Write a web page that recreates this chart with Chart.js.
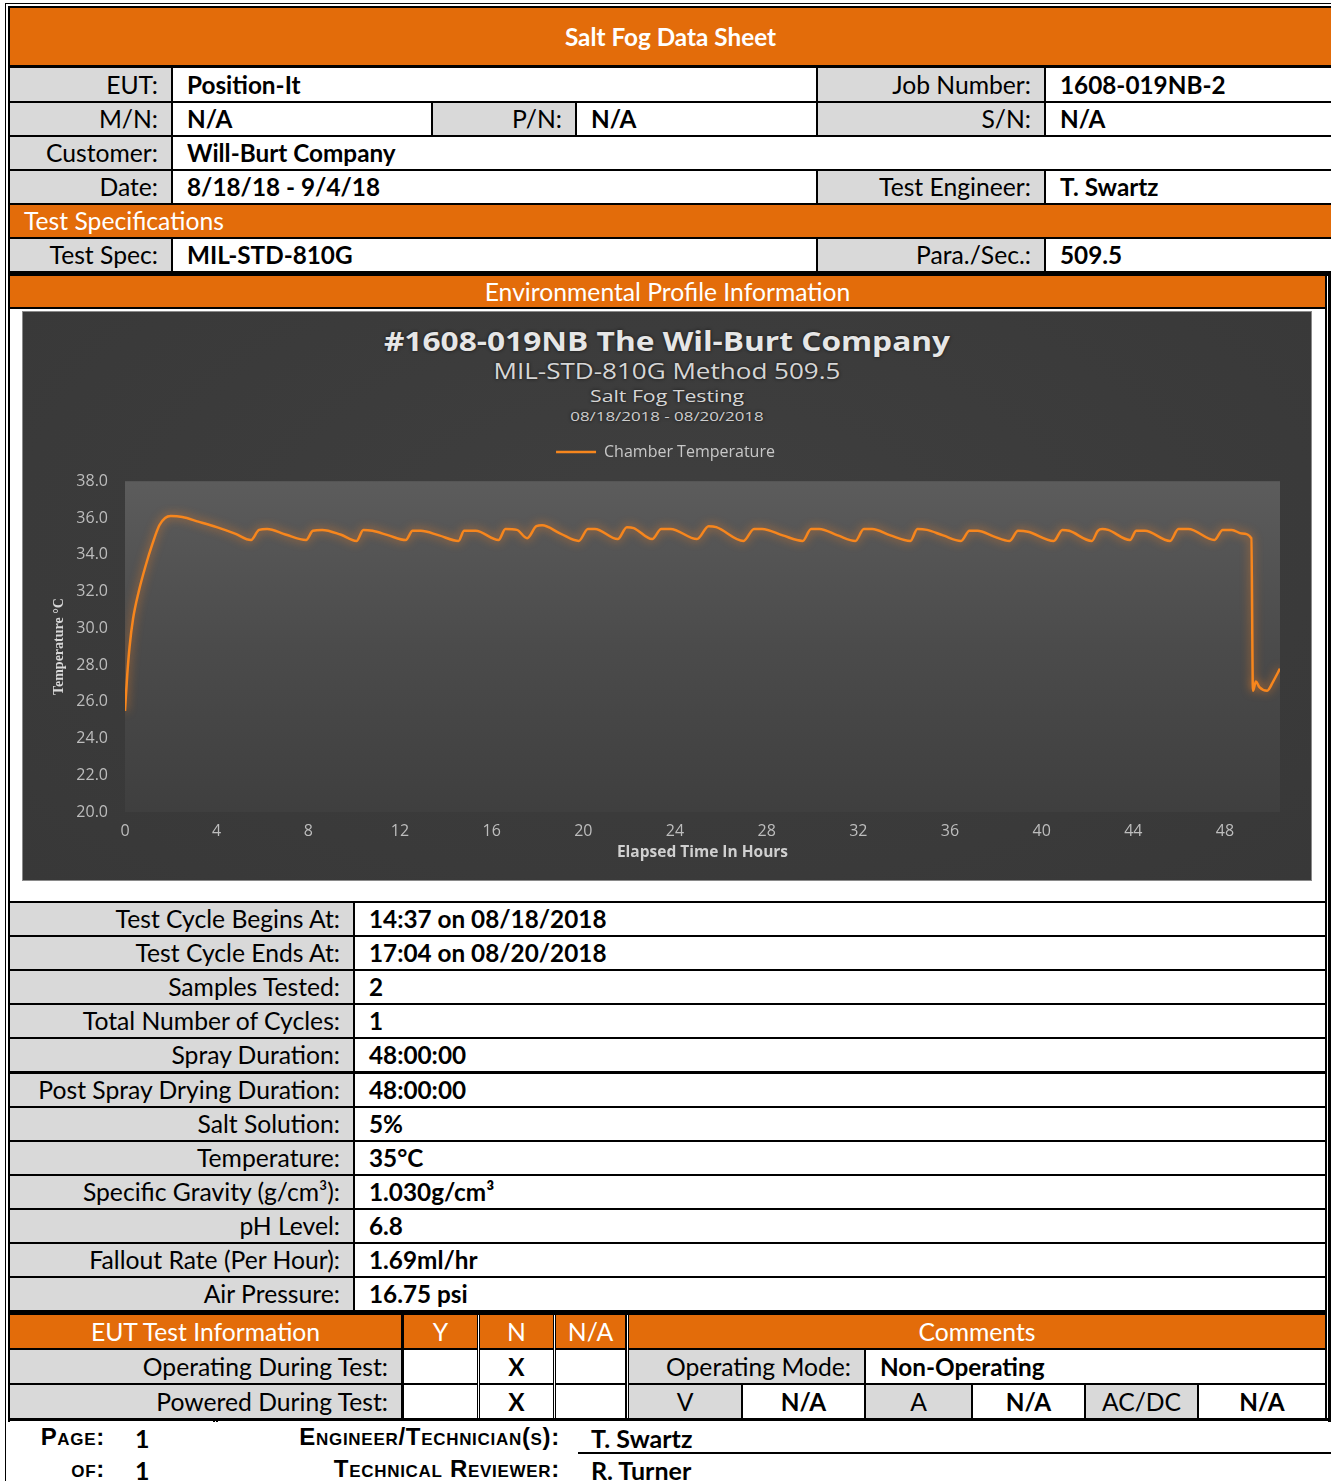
<!DOCTYPE html>
<html><head><meta charset="utf-8">
<script src="https://cdn.jsdelivr.net/npm/chart.js@4.4.0/dist/chart.umd.min.js"></script>
<style>
html,body{margin:0;padding:0;background:#fff;}
body{width:1331px;height:1481px;position:relative;overflow:hidden;font-family:Lato,'Noto Sans',sans-serif;}
.c{position:absolute;box-sizing:border-box;white-space:nowrap;overflow:hidden;font-size:24.7px;color:#000;}
.o{background:#e36c0a;color:#fff;}
.g{background:#d9d9d9;}
.w{background:#fff;}
.b{font-weight:700;font-size:24.3px;}
.l{text-align:left;padding-left:14px;}
.r{text-align:right;padding-right:13px;}
.m{text-align:center;}
#frame1{position:absolute;left:5px;top:3px;width:1340px;height:1490px;border:1px solid #000;background:#fff;}
#frame2{position:absolute;left:8px;top:6px;width:1330px;height:1416px;background:#000;}
#chartBox{position:absolute;left:23px;top:312px;width:1288px;height:568px;background:radial-gradient(ellipse at 50% 40%,#3f3f3f 0%,#383838 100%);box-shadow:0 0 0 1px #8a8a8a;}
#chartBox canvas{position:absolute;left:0;top:0;}
.t{position:absolute;left:0;width:1288px;text-align:center;font-family:'Open Sans',sans-serif;white-space:nowrap;text-shadow:0 0 3px #111;transform-origin:644px 50%;}
.f{position:absolute;font-family:'Liberation Sans',Arial,sans-serif;font-weight:700;font-size:24px;letter-spacing:0.7px;font-variant:small-caps;white-space:nowrap;color:#000;}
.fv{position:absolute;font-family:Lato,sans-serif;font-weight:700;font-size:25px;white-space:nowrap;color:#000;}
</style></head>
<body>
<div id="frame1"></div>
<div id="frame2"></div>
<div id="cells"></div>
<div id="chartBox">
  <div class="t" style="top:13px;font-size:26px;font-weight:700;color:#e6e6e6;line-height:32px;transform:scaleX(1.218);">#1608-019NB The Wil-Burt Company</div>
  <div class="t" style="top:46px;font-size:21px;color:#d6d6d6;line-height:26px;transform:scaleX(1.24);">MIL-STD-810G Method 509.5</div>
  <div class="t" style="top:74px;font-size:17px;color:#d6d6d6;line-height:20px;transform:scaleX(1.25);">Salt Fog Testing</div>
  <div class="t" style="top:96px;font-size:13.5px;color:#cfcfcf;line-height:16px;transform:scaleX(1.25);">08/18/2018 - 08/20/2018</div>
  <canvas id="chart" width="1288" height="568"></canvas>
</div>
<div class="f" style="right:1226px;top:1423px;">Page:</div>
<div class="fv" style="left:135px;top:1423px;">1</div>
<div class="f" style="right:1226px;top:1455px;">of:</div>
<div class="fv" style="left:135px;top:1455px;">1</div>
<div class="f" style="right:771px;top:1423px;">Engineer/Technician(s):</div>
<div class="fv" style="left:591px;top:1423px;">T. Swartz</div>
<div class="f" style="right:771px;top:1455px;">Technical Reviewer:</div>
<div class="fv" style="left:591px;top:1455px;">R. Turner</div>
<div style="position:absolute;left:578px;top:1452px;width:753px;height:2px;background:#000;"></div>
<script>
// ---- chart data ----
const seriesLabel = 'Chamber Temperature';
const hours = [
  0, 0.1, 0.2, 0.35, 0.6, 0.9, 1.2, 1.5, 1.75, 2.0, 2.5, 3.2, 4.0, 4.8, 5.5,
  5.85, 6.2, 7.0, 7.9,
  8.2, 8.6, 9.4, 10.1,
  10.4, 10.8, 11.5, 12.25,
  12.55, 12.9, 13.7, 14.55,
  14.8, 15.3, 16.3,
  16.6, 17.1, 17.55,
  17.95, 18.2, 19.0, 19.8,
  20.2, 20.5, 21.5,
  21.9, 22.2, 23.0,
  23.4, 23.8, 24.96,
  25.47, 25.8, 26.99,
  27.45, 27.8, 28.7, 29.57,
  29.94, 30.3, 31.1, 31.87,
  32.24, 32.6, 33.4, 34.27,
  34.58, 35.0, 35.7, 36.48,
  36.85, 37.2, 37.9, 38.6,
  38.97, 39.4, 40.53,
  40.9, 41.2, 42.19,
  42.45, 42.65, 42.9, 43.85,
  44.13, 44.5, 45.6,
  45.97, 46.4, 47.54,
  47.9, 48.3, 48.74, 49.15,
  49.22, 49.35, 49.5, 49.84, 50.1, 50.4
];
const temps = [
  25.5, 27.5, 29.0, 30.5, 32.0, 33.4, 34.6, 35.6, 36.0, 36.1, 36.05, 35.8, 35.5, 35.15, 34.8,
  35.35, 35.4, 35.1, 34.8,
  35.3, 35.35, 35.1, 34.75,
  35.35, 35.3, 35.05, 34.8,
  35.3, 35.3, 35.05, 34.75,
  35.3, 35.3, 34.8,
  35.4, 35.35, 34.9,
  35.55, 35.6, 35.15, 34.75,
  35.4, 35.4, 34.85,
  35.5, 35.45, 34.85,
  35.4, 35.4, 34.85,
  35.55, 35.5, 34.75,
  35.4, 35.4, 35.05, 34.75,
  35.4, 35.4, 35.05, 34.75,
  35.4, 35.4, 35.05, 34.75,
  35.4, 35.35, 35.05, 34.75,
  35.3, 35.3, 35.0, 34.75,
  35.3, 35.25, 34.75,
  35.35, 35.3, 34.75,
  35.3, 35.4, 35.35, 34.8,
  35.3, 35.3, 34.75,
  35.4, 35.4, 34.8,
  35.35, 35.35, 35.15, 34.9,
  26.6, 27.1, 26.8, 26.6, 27.1, 27.8
];
const xTickValues = [0, 4, 8, 12, 16, 20, 24, 28, 32, 36, 40, 44, 48];
const yTickValues = [20, 22, 24, 26, 28, 30, 32, 34, 36, 38];
const xMax = 50.4;

// ---- table cells ----
const R = [ [68,101], [103,135], [137,169], [171,203], [205,237], [239,271] ];
const cells = [
  [10,8,1331,65,'o b m','Salt Fog Data Sheet'],
  [10,R[0][0],171,R[0][1],'g r','EUT:'], [173,R[0][0],816,R[0][1],'w l b','Position-It'],
  [818,R[0][0],1044,R[0][1],'g r','Job Number:'], [1046,R[0][0],1331,R[0][1],'w l b','1608-019NB-2'],
  [10,R[1][0],171,R[1][1],'g r','M/N:'], [173,R[1][0],431,R[1][1],'w l b','N/A'],
  [433,R[1][0],575,R[1][1],'g r','P/N:'], [577,R[1][0],816,R[1][1],'w l b','N/A'],
  [818,R[1][0],1044,R[1][1],'g r','S/N:'], [1046,R[1][0],1331,R[1][1],'w l b','N/A'],
  [10,R[2][0],171,R[2][1],'g r','Customer:'], [173,R[2][0],1331,R[2][1],'w l b','Will-Burt Company'],
  [10,R[3][0],171,R[3][1],'g r','Date:'], [173,R[3][0],816,R[3][1],'w l b','8/18/18 - 9/4/18'],
  [818,R[3][0],1044,R[3][1],'g r','Test Engineer:'], [1046,R[3][0],1331,R[3][1],'w l b','T. Swartz'],
  [10,R[4][0],1331,R[4][1],'o l','Test Specifications'],
  [10,R[5][0],171,R[5][1],'g r','Test Spec:'], [173,R[5][0],816,R[5][1],'w l b','MIL-STD-810G'],
  [818,R[5][0],1044,R[5][1],'g r','Para./Sec.:'], [1046,R[5][0],1331,R[5][1],'w l b','509.5'],
  [10,276,1325,307,'o m','Environmental Profile Information'],
  [10,309,1325,901,'w',''],
];
const dataRows = [
  ['Test Cycle Begins At:','14:37 on 08/18/2018'],
  ['Test Cycle Ends At:','17:04 on 08/20/2018'],
  ['Samples Tested:','2'],
  ['Total Number of Cycles:','1'],
  ['Spray Duration:','48:00:00'],
  ['Post Spray Drying Duration:','48:00:00'],
  ['Salt Solution:','5%'],
  ['Temperature:','35°C'],
  ['Specific Gravity (g/cm³):','1.030g/cm³'],
  ['pH Level:','6.8'],
  ['Fallout Rate (Per Hour):','1.69ml/hr'],
  ['Air Pressure:','16.75 psi']
];
dataRows.forEach((r,i)=>{
  const y = Math.round(903 + i*34.1);
  cells.push([10,y,353,y+32,'g r',r[0]]);
  cells.push([355,y,1325,y+32,'w l b',r[1]]);
});
const e1=[1315,1348], e2=[1350,1383], e3=[1385,1418];
cells.push(
  [10,e1[0],401,e1[1],'o m','EUT Test Information'], [404,e1[0],477,e1[1],'o m','Y'],
  [480,e1[0],553,e1[1],'o m','N'], [556,e1[0],625,e1[1],'o m','N/A'], [629,e1[0],1325,e1[1],'o m','Comments'],
  [10,e2[0],401,e2[1],'g r','Operating During Test:'], [404,e2[0],477,e2[1],'w',''],
  [480,e2[0],553,e2[1],'w m b','X'], [556,e2[0],625,e2[1],'w',''],
  [629,e2[0],864,e2[1],'g r','Operating Mode:'], [866,e2[0],1325,e2[1],'w l b','Non-Operating'],
  [10,e3[0],401,e3[1],'g r','Powered During Test:'], [404,e3[0],477,e3[1],'w',''],
  [480,e3[0],553,e3[1],'w m b','X'], [556,e3[0],625,e3[1],'w',''],
  [629,e3[0],741,e3[1],'g m','V'], [743,e3[0],864,e3[1],'w m b','N/A'],
  [866,e3[0],971,e3[1],'g m','A'], [973,e3[0],1084,e3[1],'w m b','N/A'],
  [1086,e3[0],1197,e3[1],'g m','AC/DC'], [1199,e3[0],1325,e3[1],'w m b','N/A'],
  [1327,276,1328,1418,'w',''],
  [478,1315,479,1418,'w',''], [554,1315,555,1418,'w',''], [627,1315,628,1418,'w',''],
  [10,1421,213,1481,'w',''], [218,1421,1328,1481,'w',''], [215,1421,216,1481,'w','']
);
const host = document.getElementById('cells');
cells.forEach(([x1,y1,x2,y2,cls,txt])=>{
  const d = document.createElement('div');
  d.className = 'c ' + cls;
  d.style.left = x1+'px'; d.style.top = y1+'px';
  d.style.width = (x2-x1)+'px'; d.style.height = (y2-y1)+'px';
  d.style.lineHeight = (y2-y1)+'px';
  d.textContent = txt;
  host.appendChild(d);
});

// ---- chart ----
const plotBg = {
  id:'plotBg',
  beforeDraw(chart){
    const {ctx, chartArea:a} = chart;
    const g = ctx.createLinearGradient(0,a.top,0,a.bottom);
    g.addColorStop(0,'#5c5c5c'); g.addColorStop(0.5,'#4b4b4b'); g.addColorStop(1,'#3f3f3f');
    ctx.save(); ctx.fillStyle = g; ctx.fillRect(a.left,a.top,a.right-a.left,a.bottom-a.top); ctx.restore();
  }
};
const glow = {
  id:'glow',
  beforeDatasetDraw(chart){ const c=chart.ctx; c.save(); c.shadowColor='rgba(255,130,30,0.85)'; c.shadowBlur=10; },
  afterDatasetDraw(chart){ chart.ctx.restore(); }
};
new Chart(document.getElementById('chart'), {
  type:'line',
  data:{ datasets:[{
    label: seriesLabel,
    data: hours.map((h,i)=>({x:h, y:temps[i]})),
    borderColor:'#f7861d', backgroundColor:'#f7861d', borderWidth:2.5,
    pointRadius:0, fill:false, cubicInterpolationMode:'monotone'
  }]},
  options:{
    responsive:false, animation:false, devicePixelRatio:1,
    layout:{ padding:{ left:28, right:31, top:122, bottom:9 } },
    plugins:{
      legend:{ display:true, position:'top',
        labels:{ usePointStyle:true, pointStyle:'line', pointStyleWidth:40, padding:10,
          color:'#c8c8c8', font:{ family:'Open Sans', size:16 } } },
      subtitle:{ display:true, text:'', weight:500, font:{ size:1 }, padding:{ top:0, bottom:10 } },
      title:{ display:false },
      tooltip:{ enabled:false }
    },
    scales:{
      x:{ type:'linear', min:0, max:xMax,
        afterBuildTicks(s){ s.ticks = xTickValues.map(v=>({value:v})); },
        afterFit(s){ s.height = 59; },
        grid:{ display:false, drawTicks:false }, border:{ display:false },
        ticks:{ color:'#bdbdbd', font:{ family:'Open Sans', size:16 }, padding:10, maxRotation:0, autoSkip:false },
        title:{ display:true, text:'Elapsed Time In Hours', color:'#d0d0d0',
          font:{ family:'Open Sans', size:15.5, weight:'bold' }, padding:{ top:0, bottom:9 } }
      },
      y:{ type:'linear', min:20, max:38,
        afterBuildTicks(s){ s.ticks = yTickValues.map(v=>({value:v})); },
        afterFit(s){ s.width = 74; },
        grid:{ display:false, drawTicks:false }, border:{ display:false },
        ticks:{ color:'#bdbdbd', font:{ family:'Open Sans', size:16 }, padding:17, callback:v=>Number(v).toFixed(1) },
        title:{ display:true, text:'Temperature °C', color:'#d8d8d8',
          font:{ family:'Liberation Serif', size:14, weight:'bold' }, padding:{ top:0, bottom:0 } }
      }
    }
  },
  plugins:[plotBg, glow]
});
</script>
</body></html>
